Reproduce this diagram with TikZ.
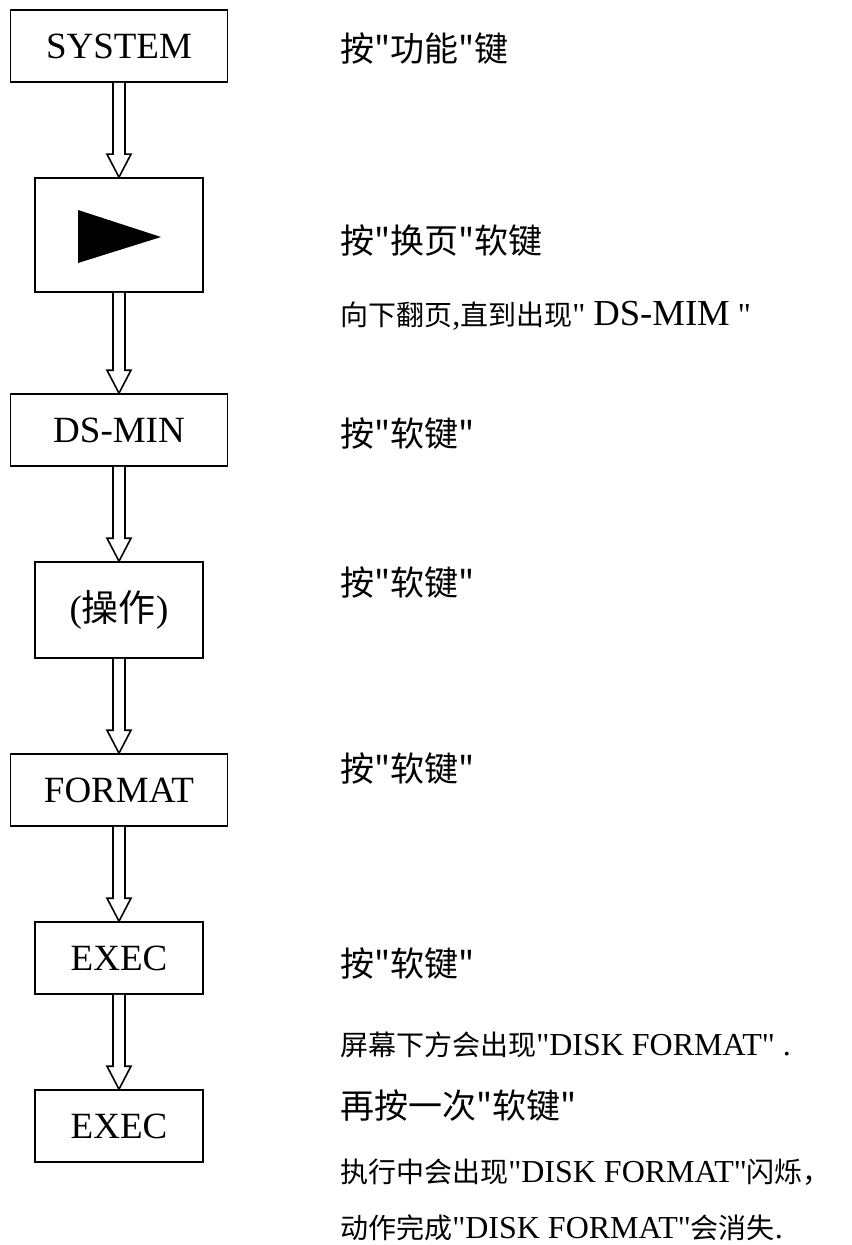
\documentclass[tikz,border=0pt]{standalone}
\usepackage{fontspec}
\setmainfont{Liberation Serif}
\newfontfamily\tmsfont{Liberation Serif}
\newfontfamily\cjk{Noto Sans CJK SC}
\usetikzlibrary{calc}

\newcommand\tms[1]{{\tmsfont\fontsize{24}{28}\selectfont #1}}
\newcommand\hollowarrow[2]{%
  \draw[hollow] ($(#1.south)+(-6,0)$) -- ($(#2.north)+(-6,-23)$) -- ($(#2.north)+(-12,-23)$)
    -- (#2.north) -- ($(#2.north)+(12,-23)$) -- ($(#2.north)+(6,-23)$) -- ($(#1.south)+(6,0)$);}

\begin{document}
\begin{tikzpicture}[x=0.75pt, y=-0.75pt,
  box/.style={draw, line width=1.2pt, inner sep=0pt, font=\tmsfont\fontsize{27.75}{30}\selectfont},
  wide/.style={box, minimum width=162.75pt, minimum height=54pt},
  narrow/.style={box, minimum width=126pt, minimum height=54pt},
  note/.style={anchor=west, inner sep=0pt, font=\cjk\fontsize{25.5}{28}\selectfont},
  small/.style={anchor=west, inner sep=0pt, font=\cjk\fontsize{21}{24}\selectfont},
  hollow/.style={draw, line width=1.2pt, fill=white, line join=miter}]

\useasboundingbox (0,0) rectangle (852,1245);

% Key boxes
\node[wide] (sys) at (119,46) {SYSTEM};
\node[narrow, minimum height=85.5pt] (page) at (119,235) {};
\node[wide] (dsmin) at (119,430) {DS-MIN};
\node[narrow, minimum height=72pt] (oper) at (119,610) {({\cjk 操作})};
\node[wide] (fmt) at (119,790) {FORMAT};
\node[narrow] (exec1) at (119,958) {EXEC};
\node[narrow] (exec2) at (119,1126) {EXEC};

% Page key symbol
\fill (78,210) -- (161,237) -- (78,263) -- cycle;

% Hollow arrows
\hollowarrow{sys}{page}
\hollowarrow{page}{dsmin}
\hollowarrow{dsmin}{oper}
\hollowarrow{oper}{fmt}
\hollowarrow{fmt}{exec1}
\hollowarrow{exec1}{exec2}

% Notes
\node[note] (n1) at (340,49) {按"功能"键};
\node[note] (n2) at (340,241) {按"换页"软键};
\node[small] (n3) at (340,316) {向下翻页\tms{,}直到出现\tms{" {\fontsize{27.5}{30}\selectfont DS-MIM} "}};
\node[note] (n4) at (340,434) {按"软键"};
\node[note] (n5) at (340,583) {按"软键"};
\node[note] (n6) at (340,769) {按"软键"};
\node[note] (n7) at (340,964) {按"软键"};
\node[small] (n8) at (340,1045) {屏幕下方会出现\tms{"DISK FORMAT" .}};
\node[note] (n9) at (340,1106) {再按一次"软键"};
\node[small] (n10) at (340,1172) {执行中会出现\tms{"DISK FORMAT"}闪烁，};
\node[small] (n11) at (340,1228) {动作完成\tms{"DISK FORMAT"}会消失\tms{.}};

\end{tikzpicture}
\end{document}
